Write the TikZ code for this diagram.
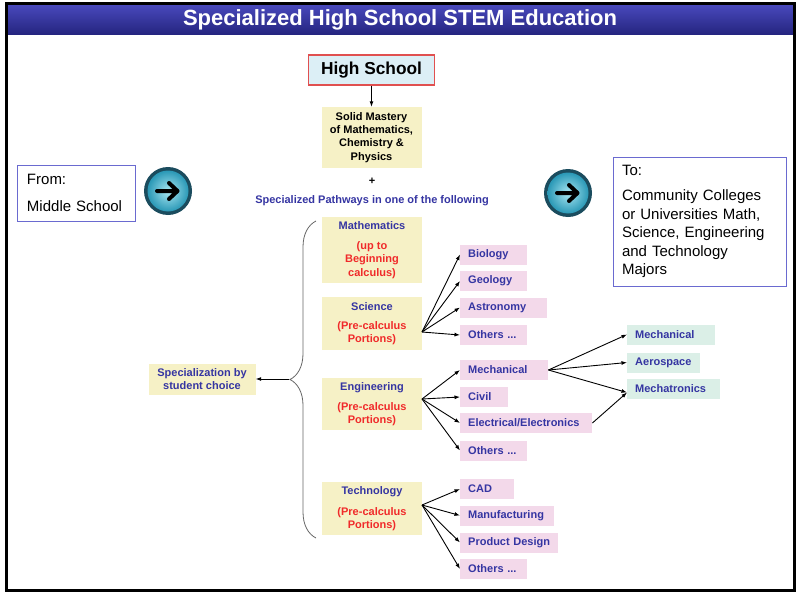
\documentclass[tikz,border=0pt]{standalone}
\usepackage{fontspec}
\setmainfont{Liberation Sans}
\usetikzlibrary{arrows.meta,decorations.pathreplacing}
\definecolor{barnavy}{HTML}{24247E}
\definecolor{barblue}{HTML}{4A4ABE}
\definecolor{pathblue}{HTML}{3535A2}
\definecolor{pathred}{HTML}{F02A2A}
\definecolor{khaki}{HTML}{F6F1C6}
\definecolor{pinkbox}{HTML}{F3D9EA}
\definecolor{greenbox}{HTML}{DBEFE7}
\definecolor{edgeblue}{HTML}{6A6AD0}
\definecolor{hsred}{HTML}{E05050}
\definecolor{hsfill}{HTML}{DCEFF6}
\definecolor{btnring}{HTML}{1B4C5E}
\definecolor{btnlight}{HTML}{A8E6F2}
\definecolor{btnteal}{HTML}{2A98B6}
\newcommand{\smallbold}{\bfseries\fontsize{11}{13.5}\selectfont}
\newcommand{\subnote}[1]{\textcolor{pathred}{#1}}
\tikzset{
  core/.style={fill=khaki, minimum width=100pt, inner sep=0pt, align=center, text=pathblue, font=\smallbold},
  track/.style={fill=pinkbox, anchor=west, inner xsep=8pt, inner ysep=0pt, minimum height=20pt, text width=#1, align=left, text=pathblue, font=\smallbold},
  major/.style={track=#1, fill=greenbox},
  endbox/.style={draw=edgeblue, line width=1pt, align=left, inner ysep=0pt},
  link/.style={-{Latex[length=5.5pt,width=4pt]}, line width=0.9pt},
  nextbtn/.pic={
    \fill[btnring] (0,0) circle (24);
    \shade[inner color=btnlight, outer color=btnteal] (0,0) circle (20.5);
    \draw[line width=4pt, line cap=round, line join=round] (-11,0) -- (9,0) (1,-8) -- (9.5,0) -- (1,8);
  }
}
\begin{document}
\begin{tikzpicture}[x=1pt, y=-1pt]
		\useasboundingbox (0,0) rectangle (800,594);
		\shade[top color=barblue, bottom color=barnavy] (6.5,3.5) rectangle (794.5,35);
		\draw[line width=3pt] (6.5,3.5) rectangle (794.5,590.5);
		\node[text=white, font=\bfseries\fontsize{22}{25}\selectfont] (title) at (400,20) {Specialized High School STEM Education};
		\node[draw=hsred, fill=hsfill, line width=1.2pt, minimum width=126pt, minimum height=30pt, font=\bfseries\fontsize{17.3}{19}\selectfont] (hs) at (371.5,70) {High School};
		\node[core, text=black, minimum height=61pt, font=\bfseries\fontsize{11}{13.3}\selectfont] (mastery) at (371.5,137.5) {Solid Mastery\\of Mathematics,\\Chemistry \&\\Physics};
		\draw[link] (hs) -- (mastery);
		\node[font=\smallbold] (plus) at (372,181) {+};
		\node[text=pathblue, font=\smallbold] (pathways) at (372,201) {Specialized Pathways in one of the following};
		\node[endbox, text width=98pt, inner xsep=10pt, minimum height=56pt, font=\fontsize{15}{18}\selectfont] (from) at (76,193) {From:\\[9pt]Middle School};
		\node[endbox, text width=155pt, inner xsep=9pt, minimum height=129pt, font=\fontsize{15}{18.5}\selectfont] (to) at (699.5,221.5) {To:\\[6.5pt]Community Colleges\\or Universities Math,\\Science, Engineering\\and Technology\\Majors};
		\pic (goL) at (168,191) {nextbtn};
		\pic (goR) at (568,193) {nextbtn};
		\node[core, minimum height=66pt] (math) at (372,250) {Mathematics\\[6.5pt]\subnote{(up to}\\\subnote{Beginning}\\\subnote{calculus)}};
		\node[core, minimum height=53pt] (sci) at (372,323.5) {Science\\[5.5pt]\subnote{(Pre-calculus}\\\subnote{Portions)}};
		\node[core, minimum height=52pt] (eng) at (372,404) {Engineering\\[6.5pt]\subnote{(Pre-calculus}\\\subnote{Portions)}};
		\node[core, minimum height=53pt] (tech) at (372,508.5) {Technology\\[7.5pt]\subnote{(Pre-calculus}\\\subnote{Portions)}};
		\node[core, minimum width=107pt, minimum height=31pt] (choice) at (202,379) {Specialization by\\student choice};
		\coordinate (tip) at (289,379);
		\draw[decorate, decoration={brace, amplitude=26pt}, draw=black!60, line width=0.8pt] (316,538) -- (316,221);
		\draw[link] (tip) -- (choice.east);
		\node[track=51pt] (bio) at (460,254.5) {Biology};
		\node[track=51pt] (geo) at (460,281) {Geology};
		\node[track=71pt] (astro) at (460,307.5) {Astronomy};
		\node[track=51pt] (sciOther) at (460,335) {Others ...};
		\node[track=72pt] (mechP) at (460,370) {Mechanical};
		\node[track=32pt] (civil) at (460,397) {Civil};
		\node[track=116pt] (elec) at (460,423) {Electrical/Electronics};
		\node[track=51pt] (engOther) at (460,450.5) {Others ...};
		\node[track=38pt] (cad) at (460,489) {CAD};
		\node[track=78pt] (manuf) at (460,515.5) {Manufacturing};
		\node[track=82pt] (design) at (460,542.5) {Product Design};
		\node[track=51pt] (techOther) at (460,569) {Others ...};
		\node[major=72pt] (mechG) at (627,334.5) {Mechanical};
		\node[major=57pt] (aero) at (627,362.5) {Aerospace};
		\node[major=77pt] (mtx) at (627,388.5) {Mechatronics};
		\coordinate (sciOut) at (422,332);
		\coordinate (engOut) at (422,399);
		\coordinate (techOut) at (422,505);
		\foreach \t in {bio,geo,astro,sciOther} \draw[link] (sciOut) -- (\t.west);
		\foreach \t in {mechP,civil,elec,engOther} \draw[link] (engOut) -- (\t.west);
		\foreach \t in {cad,manuf,design,techOther} \draw[link] (techOut) -- (\t.west);
		\draw[link] (mechP.east) -- (mechG.west);
		\draw[link] (mechP.east) -- (aero.west);
		\draw[link] (mechP.east) -- ([yshift=-4pt]mtx.west);
		\draw[link] (elec.east) -- ([yshift=-4pt]mtx.west);
\end{tikzpicture}
\end{document}
